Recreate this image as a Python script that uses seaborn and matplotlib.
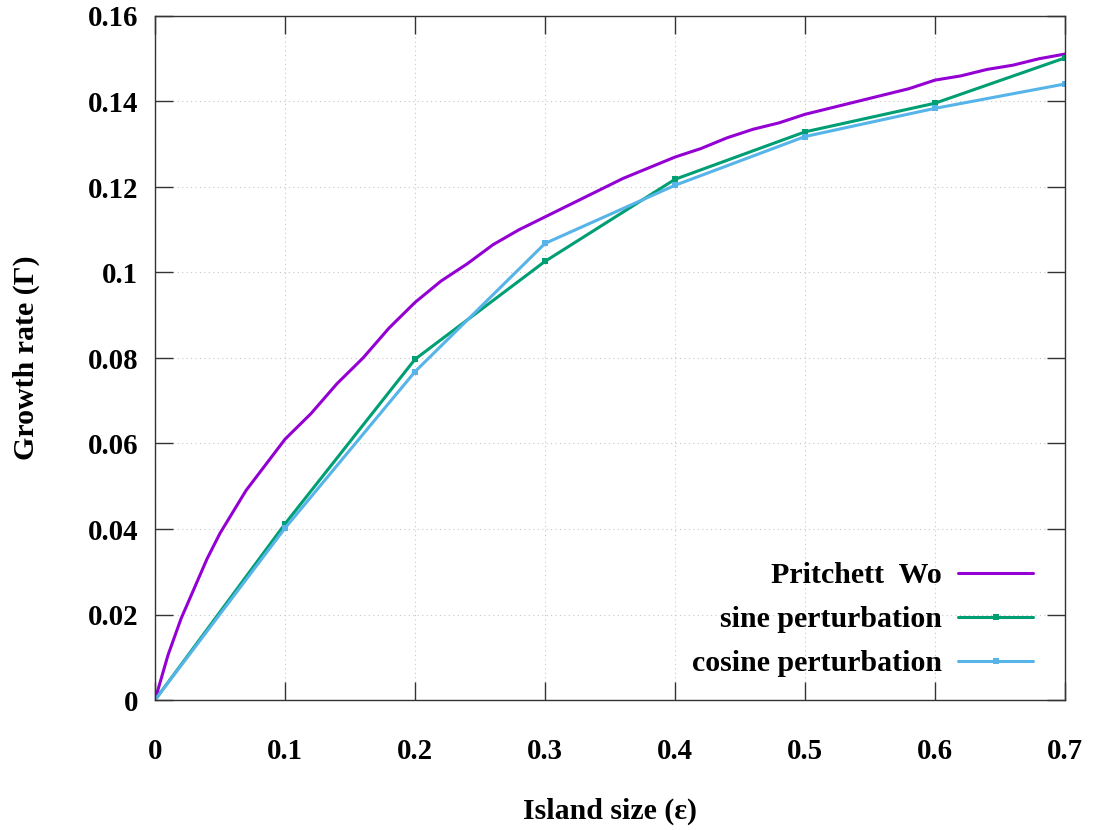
import numpy as np
import pandas as pd
import matplotlib
matplotlib.use("Agg")
import matplotlib.pyplot as plt
import seaborn as sns

# Pritchett Wo (dense curve)
pw_x = [0.0, 0.01, 0.02, 0.03, 0.04, 0.05, 0.06, 0.07, 0.08, 0.09, 0.10,
        0.12, 0.14, 0.16, 0.18, 0.20, 0.22, 0.24, 0.26, 0.28, 0.30,
        0.32, 0.34, 0.36, 0.38, 0.40, 0.42, 0.44, 0.46, 0.48, 0.50,
        0.52, 0.54, 0.56, 0.58, 0.60, 0.62, 0.64, 0.66, 0.68, 0.70]
pw_y = [0.0, 0.0105, 0.019, 0.026, 0.033, 0.039, 0.044, 0.049, 0.053, 0.057, 0.061,
        0.067, 0.074, 0.080, 0.087, 0.093, 0.098, 0.102, 0.1065, 0.110, 0.113,
        0.116, 0.119, 0.122, 0.1245, 0.127, 0.129, 0.1315, 0.1335, 0.135, 0.137,
        0.1385, 0.140, 0.1415, 0.143, 0.145, 0.146, 0.1475, 0.1485, 0.150, 0.1511]

eps = [0.0, 0.1, 0.2, 0.3, 0.4, 0.5, 0.6, 0.7]
sine_y = [0.0, 0.0412, 0.0797, 0.1026, 0.1218, 0.1329, 0.1396, 0.1502]
cosine_y = [0.0, 0.0402, 0.0768, 0.1068, 0.1204, 0.1318, 0.1384, 0.1441]

labels = ["Pritchett  Wo", "sine perturbation", "cosine perturbation"]
colors = ["#9400D3", "#009E73", "#56B4E9"]

xticks = [0, 0.1, 0.2, 0.3, 0.4, 0.5, 0.6, 0.7]
xtick_labels = ["0", "0.1", "0.2", "0.3", "0.4", "0.5", "0.6", "0.7"]
yticks = [0, 0.02, 0.04, 0.06, 0.08, 0.1, 0.12, 0.14, 0.16]
ytick_labels = ["0", "0.02", "0.04", "0.06", "0.08", "0.1", "0.12", "0.14", "0.16"]

sns.set_style("ticks")
plt.rcParams["font.family"] = ["Liberation Serif", "DejaVu Serif"]
plt.rcParams["font.weight"] = "bold"
plt.rcParams["axes.labelweight"] = "bold"
plt.rcParams["text.color"] = "black"
plt.rcParams["axes.labelcolor"] = "black"
plt.rcParams["xtick.labelcolor"] = "black"
plt.rcParams["ytick.labelcolor"] = "black"

fig = plt.figure(figsize=(10.94, 8.30), dpi=100)
ax = fig.add_axes([155 / 1094, 1 - 700 / 830, 910 / 1094, 684 / 830])

df_pw = pd.DataFrame({"x": pw_x, "y": pw_y})
df_s = pd.DataFrame({"x": eps, "y": sine_y})
df_c = pd.DataFrame({"x": eps, "y": cosine_y})

sns.lineplot(data=df_pw, x="x", y="y", ax=ax, color=colors[0], lw=2.2,
             label=labels[0], estimator=None, sort=False)
sns.lineplot(data=df_s, x="x", y="y", ax=ax, color=colors[1], lw=2.2,
             marker="s", markersize=4, markeredgewidth=0, label=labels[1],
             estimator=None, sort=False)
sns.lineplot(data=df_c, x="x", y="y", ax=ax, color=colors[2], lw=2.2,
             marker="s", markersize=4, markeredgewidth=0, label=labels[2],
             estimator=None, sort=False)

ax.set_xlim(0, 0.7)
ax.set_ylim(0, 0.16)
ax.set_xticks(xticks)
ax.set_xticklabels(xtick_labels)
ax.set_yticks(yticks)
ax.set_yticklabels(ytick_labels)

ax.grid(True, color="#c8c8c8", linestyle=(0, (1, 3)), linewidth=0.8)
ax.set_axisbelow(True)

for sp in ax.spines.values():
    sp.set_visible(True)
    sp.set_color("#333333")
    sp.set_linewidth(1.0)

ax.tick_params(axis="both", which="major", direction="in", length=13,
               width=1.0, color="#333333", labelsize=20.8,
               labelcolor="black", top=True, right=True)
ax.tick_params(axis="x", pad=27)
ax.tick_params(axis="y", pad=12)
for t in ax.get_xticklabels() + ax.get_yticklabels():
    t.set_fontweight("bold")

ax.set_xlabel("Island size (ε)", fontsize=21.5, fontweight="bold",
              labelpad=24, color="black")
ax.set_ylabel("Growth rate (Γ)", fontsize=21.5, fontweight="bold",
              labelpad=34, color="black")

leg = ax.legend(loc="lower right", bbox_to_anchor=(0.965, 0.033),
                frameon=False, markerfirst=False, fontsize=21.5,
                handlelength=2.5, handletextpad=0.55, labelspacing=0.57,
                borderpad=0, borderaxespad=0, numpoints=1)
for t in leg.get_texts():
    t.set_fontweight("bold")
    t.set_color("black")

fig.savefig("out.png", dpi=100)
